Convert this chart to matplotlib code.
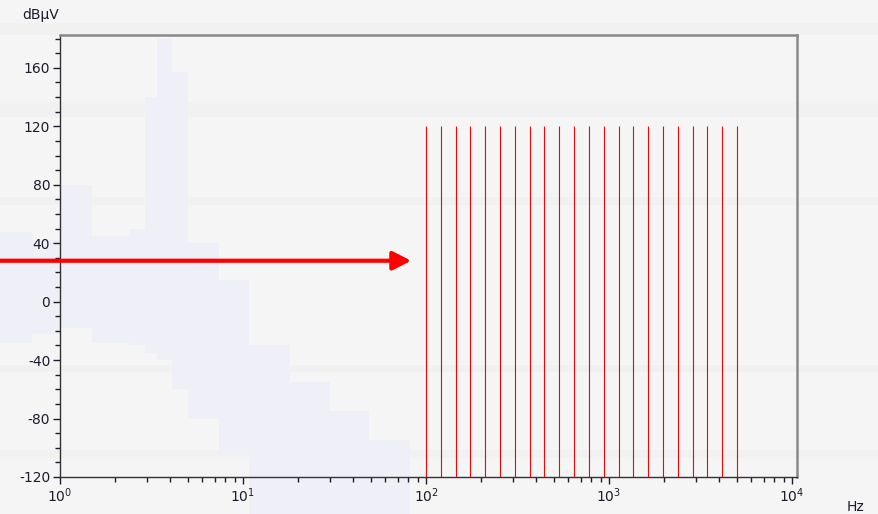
import matplotlib
matplotlib.use("Agg")
import matplotlib.pyplot as plt
from matplotlib.patches import Rectangle
from matplotlib.ticker import MultipleLocator, LogLocator, NullFormatter

plt.rcParams["axes.unicode_minus"] = False

# harmonic markers (Hz) and their level (dBuV)
line_freqs = [100, 120, 145, 175, 211, 254, 306, 368, 444, 535, 644, 776,
              935, 1127, 1357, 1635, 1970, 2373, 2859, 3445, 4150, 5000]
line_top = 120
line_bottom = -120

# faint background spectrum: step edges (Hz) with upper/lower levels (dBuV)
spec_edges = [0.46, 0.7, 1.0, 1.5, 2.4, 2.9, 3.4, 4.1, 5.0, 7.4, 10.8, 18, 30, 49, 82]
spec_top = [48, 42, 80, 45, 50, 140, 180, 157, 40, 15, -30, -55, -75, -95]
spec_bottom = [-28, -22, -18, -28, -30, -35, -40, -60, -80, -105, -146, -146, -146, -146]

# arrow marking the input level
arrow_level = 28
arrow_start = 0.46
arrow_end = 83

ink = "#1c1c2c"
bg = "#f5f5f5"

fig = plt.figure(figsize=(8.79, 5.14), dpi=100, facecolor=bg)

# light horizontal banding across the window
for y0, y1 in [(479, 491), (397, 412), (309, 317), (142, 149), (56, 64)]:
    fig.add_artist(Rectangle((0, y0 / 514), 1, (y1 - y0) / 514,
                             transform=fig.transFigure, facecolor="#f1f1f1",
                             edgecolor="none", zorder=-1))

ax = fig.add_axes([60 / 879, 37 / 514, 737 / 879, 442 / 514])
ax.set_facecolor("none")
ax.set_xscale("log")
ax.set_xlim(1, 10646)
ax.set_ylim(-120, 182.5)

# ghost spectrum, drawn as stepped bands
for i in range(len(spec_top)):
    ax.fill_between([spec_edges[i], spec_edges[i + 1]], spec_bottom[i], spec_top[i],
                    color="#efeff7", lw=0, zorder=0.5, clip_on=False)

ax.vlines(line_freqs, line_bottom, line_top, color="red", lw=0.8, zorder=3)

ax.annotate("", xy=(arrow_end, arrow_level), xytext=(arrow_start, arrow_level),
            xycoords="data", annotation_clip=False,
            arrowprops=dict(arrowstyle="-|>,head_length=0.55,head_width=0.28",
                            mutation_scale=20, color="red", lw=3,
                            shrinkA=0, shrinkB=0), zorder=4)

ax.yaxis.set_major_locator(MultipleLocator(40))
ax.yaxis.set_minor_locator(MultipleLocator(10))
ax.xaxis.set_major_locator(LogLocator(base=10, numticks=10))
ax.xaxis.set_minor_locator(LogLocator(base=10, subs=range(2, 10), numticks=50))
ax.xaxis.set_minor_formatter(NullFormatter())

ax.tick_params(which="major", direction="out", length=5, width=1, color=ink,
               labelcolor=ink, labelsize=10, pad=2)
ax.tick_params(which="minor", direction="out", length=3.5, width=1, color=ink)

for side in ["left", "bottom"]:
    ax.spines[side].set_color("#333333")
    ax.spines[side].set_linewidth(1)
for side in ["top", "right"]:
    ax.spines[side].set_color("#8a8a8a")
    ax.spines[side].set_linewidth(1.8)

fig.text(22 / 879, 1 - 15 / 514, "dBµV", fontsize=10, color=ink, va="center", ha="left")
fig.text(847 / 879, 7 / 514, "Hz", fontsize=10, color=ink, va="center", ha="left")

fig.savefig("out.png", dpi=100, facecolor=bg)
